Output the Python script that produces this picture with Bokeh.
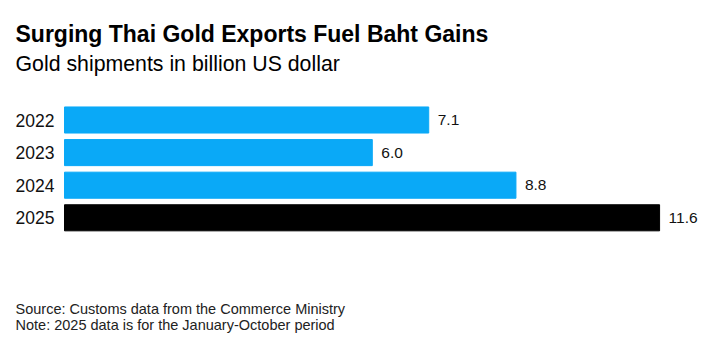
from bokeh.plotting import figure
from bokeh.models import Range1d, Label, ColumnDataSource
from bokeh.embed import file_html
from bokeh.resources import INLINE
from bokeh.core.properties import value

years = ["2022", "2023", "2024", "2025"]
shipments = [7.1, 6.0, 8.8, 11.6]
value_labels = ["7.1", "6.0", "8.8", "11.6"]
bar_colors = ["#0aa9f7", "#0aa9f7", "#0aa9f7", "#000000"]

title_text = "Surging Thai Gold Exports Fuel Baht Gains"
subtitle_text = "Gold shipments in billion US dollar"
source_text = "Source: Customs data from the Commerce Ministry"
note_text = "Note: 2025 data is for the January-October period"

FONT = "Liberation Sans"
W, H = 724, 350

# layout in pixels
bar_left_px = 64        # where value 0 sits
px_per_unit = 51.3      # horizontal scale
first_center_px = 119.5 # centre of the first bar row
row_px = 32.6           # row pitch

pos = list(range(len(years)))
src = ColumnDataSource(dict(pos=pos, year=years, x=shipments, lab=value_labels, c=bar_colors))

x_range = Range1d(-bar_left_px / px_per_unit, (W - bar_left_px) / px_per_unit)
y_top = -first_center_px / row_px
y_bottom = y_top + H / row_px
y_range = Range1d(start=y_bottom, end=y_top)   # reversed: first category on top

p = figure(width=W, height=H, output_backend="svg", toolbar_location=None,
           x_range=x_range, y_range=y_range,
           min_border=0)
p.xaxis.visible = False
p.yaxis.visible = False
p.grid.visible = False
p.outline_line_color = None

p.hbar(y="pos", right="x", left=0, height=0.8, color="c", source=src)
p.text(x="x", y="pos", text="lab", source=src, x_offset=9, text_baseline="middle",
       text_font=value(FONT), text_font_size="15.5px", text_color="#111111")
p.text(x=0, y="pos", text="year", source=src, x_offset=-10, text_align="right",
       text_baseline="middle", text_font=value(FONT), text_font_size="17.5px",
       text_color="#111111")

def add_label(txt, cy, size, style="normal", color="#000000"):
    p.add_layout(Label(x=15, y=H - cy, x_units="screen", y_units="screen",
                       text=txt, text_font=FONT, text_font_size=size, text_font_style=style,
                       text_color=color, text_baseline="alphabetic"))

add_label(title_text, 33, "23px", "bold")
add_label(subtitle_text, 63, "21.3px")
add_label(source_text, 308, "14.5px", color="#222222")
add_label(note_text, 324, "14.5px", color="#222222")

open("out.html", "w").write(file_html(p, INLINE))
